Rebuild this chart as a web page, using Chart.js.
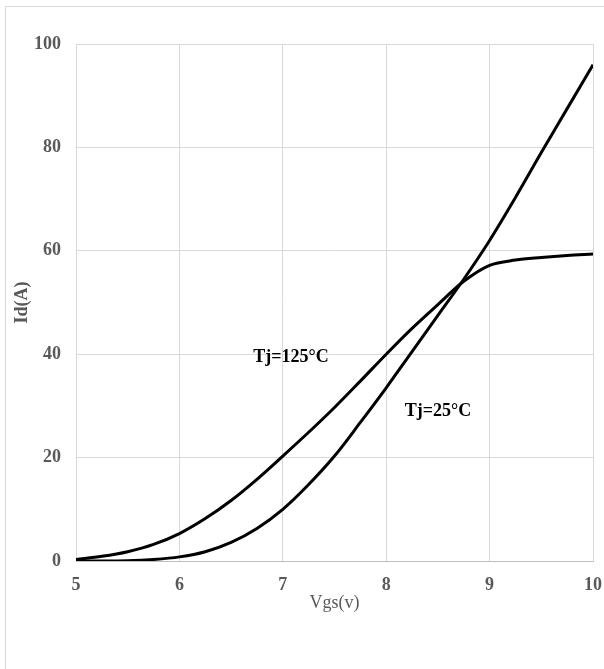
<!DOCTYPE html>
<html>
<head>
<meta charset="utf-8">
<script src="https://cdn.jsdelivr.net/npm/chart.js@4"></script>
<style>
  html, body { margin: 0; padding: 0; background: #fff; overflow: hidden; }
  #frame { position: absolute; left: 5px; top: 6px; width: 640px; height: 720px; border: 1px solid #d9d9d9; }
  #wrap { position: absolute; left: 0; top: 0; width: 604px; height: 669px; }
</style>
</head>
<body>
<div id="frame"></div>
<div id="wrap"><canvas id="chart"></canvas></div>
<script>
const vgs = [5, 5.25, 5.5, 5.75, 6, 6.25, 6.5, 6.75, 7, 7.25, 7.5, 7.75, 8, 8.25, 8.5, 8.75, 9, 9.25, 9.5, 9.75, 10];
const id25 = [0, 0, 0.05, 0.3, 0.8, 1.8, 3.6, 6.3, 10, 14.8, 20.3, 26.8, 33.5, 40.5, 47.5, 54.5, 62, 70.3, 79, 87.5, 96];
const id125 = [0.3, 0.9, 1.8, 3.2, 5.3, 8.2, 11.7, 15.8, 20.3, 24.9, 29.7, 34.8, 40, 45, 49.6, 54.1, 57.2, 58.2, 58.7, 59.1, 59.4];
const xTicks = [5, 6, 7, 8, 9, 10];
const yTicks = [0, 20, 40, 60, 80, 100];
const curveLabels = [
  { text: "Tj=125°C", x: 7.08, y: 39.3 },
  { text: "Tj=25°C", x: 8.5, y: 29 }
];

const serif = "'Liberation Serif', 'Times New Roman', serif";
const grey = "#595959";

const toPoints = (ys) => vgs.map((x, i) => ({ x, y: ys[i] }));

const curveText = {
  id: "curveText",
  afterDatasetsDraw(chart) {
    const { ctx, scales } = chart;
    ctx.save();
    ctx.font = "bold 18px " + serif;
    ctx.fillStyle = "#000";
    ctx.textAlign = "center";
    ctx.textBaseline = "middle";
    curveLabels.forEach((l) => {
      ctx.fillText(l.text, scales.x.getPixelForValue(l.x), scales.y.getPixelForValue(l.y));
    });
    ctx.restore();
  }
};

new Chart(document.getElementById("chart"), {
  type: "scatter",
  data: {
    datasets: [
      { label: "Tj=25°C", data: toPoints(id25) },
      { label: "Tj=125°C", data: toPoints(id125) }
    ].map((d) => ({
      ...d,
      showLine: true,
      borderColor: "#000",
      borderWidth: 3,
      pointRadius: 0,
      cubicInterpolationMode: "monotone"
    }))
  },
  options: {
    responsive: true,
    maintainAspectRatio: false,
    animation: false,
    layout: { padding: { top: 44, right: 0, left: 0, bottom: 0 } },
    plugins: { legend: { display: false }, tooltip: { enabled: false } },
    scales: {
      x: {
        type: "linear",
        min: 5,
        max: 10,
        afterBuildTicks: (s) => { s.ticks = xTicks.map((v) => ({ value: v })); },
        afterFit: (s) => { s.height = 108; s.paddingRight = 11; s.paddingLeft = 0; },
        ticks: { color: grey, padding: 14, font: { family: serif, size: 18, weight: "bold" } },
        grid: { color: "#d9d9d9", drawTicks: false },
        border: { color: "#bfbfbf" },
        title: {
          display: true,
          text: "Vgs(v)",
          color: grey,
          font: { family: serif, size: 18 },
          padding: { top: 0, bottom: 55 }
        }
      },
      y: {
        min: 0,
        max: 100,
        afterBuildTicks: (s) => { s.ticks = yTicks.map((v) => ({ value: v })); },
        afterFit: (s) => { s.width = 76; },
        ticks: { color: grey, padding: 15, font: { family: serif, size: 18, weight: "bold" } },
        grid: { color: "#d9d9d9", drawTicks: false },
        border: { display: false },
        title: {
          display: true,
          text: "Id(A)",
          color: grey,
          font: { family: serif, size: 18, weight: "bold" },
          padding: { top: 12, bottom: 0 }
        }
      }
    }
  },
  plugins: [curveText]
});
</script>
</body>
</html>
